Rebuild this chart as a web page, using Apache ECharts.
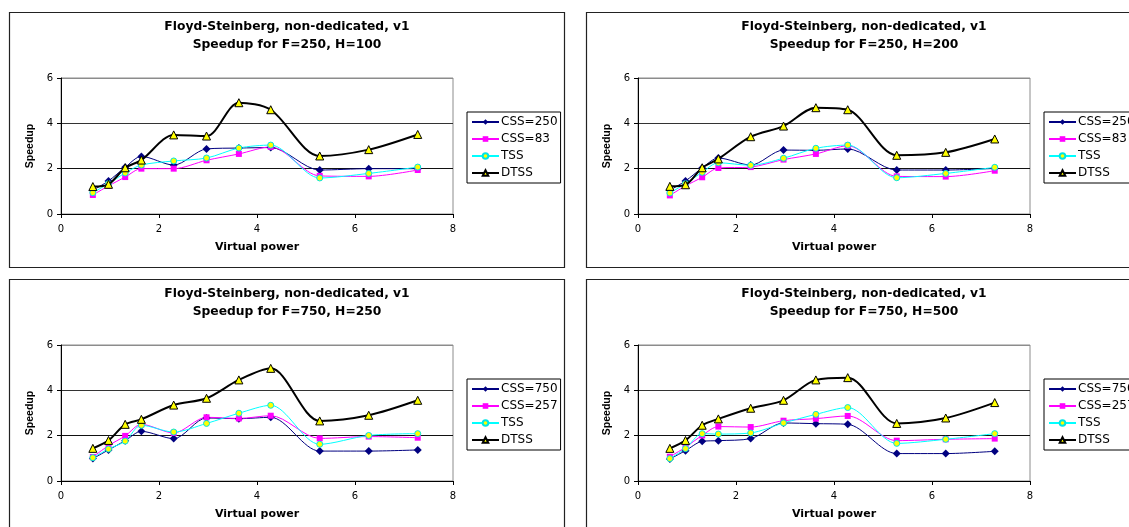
<!DOCTYPE html>
<html>
<head>
<meta charset="utf-8">
<script src="https://cdn.jsdelivr.net/npm/echarts@6/dist/echarts.min.js"></script>
<style>
html,body{margin:0;padding:0;background:#fff;}
#c{width:1129px;height:527px;}
</style>
</head>
<body>
<div id="c"></div>
<script>
// Virtual power (x values shared by all panels)
const virtualPower = [0.65, 0.97, 1.31, 1.64, 2.30, 2.97, 3.63, 4.28, 5.28, 6.28, 7.28];

const titleLine1 = 'Floyd-Steinberg, non-dedicated, v1';
const subtitles = ['Speedup for F=250, H=100', 'Speedup for F=250, H=200', 'Speedup for F=750, H=250', 'Speedup for F=750, H=500'];
const cssNames = [['CSS=250', 'CSS=83'], ['CSS=250', 'CSS=83'], ['CSS=750', 'CSS=257'], ['CSS=750', 'CSS=257']];

// Panel 1: F=250, H=100
const p1_cssA = [1.05, 1.46, 2.06, 2.54, 2.16, 2.87, 2.91, 2.93, 1.94, 2.00, 2.00];
const p1_cssB = [0.84, 1.24, 1.63, 2.00, 2.00, 2.37, 2.65, 2.96, 1.68, 1.66, 1.94];
const p1_tss  = [0.94, 1.34, 1.81, 2.16, 2.34, 2.47, 2.91, 3.04, 1.59, 1.79, 2.07];
const p1_dtss = [1.21, 1.31, 2.04, 2.38, 3.49, 3.44, 4.91, 4.60, 2.56, 2.84, 3.51];

// Panel 2: F=250, H=200
const p2_cssA = [1.05, 1.46, 2.03, 2.47, 2.16, 2.82, 2.81, 2.87, 1.94, 1.94, 2.01];
const p2_cssB = [0.82, 1.24, 1.62, 2.03, 2.07, 2.40, 2.65, 3.01, 1.66, 1.65, 1.91];
const p2_tss  = [0.93, 1.34, 1.84, 2.26, 2.15, 2.46, 2.90, 3.04, 1.60, 1.79, 2.06];
const p2_dtss = [1.22, 1.29, 2.04, 2.43, 3.41, 3.88, 4.69, 4.60, 2.59, 2.72, 3.31];

// Panel 3: F=750, H=250
const p3_cssA = [0.99, 1.37, 1.78, 2.19, 1.87, 2.78, 2.75, 2.81, 1.32, 1.32, 1.37];
const p3_cssB = [1.06, 1.56, 1.99, 2.50, 2.12, 2.81, 2.76, 2.88, 1.88, 1.96, 1.91];
const p3_tss  = [1.03, 1.41, 1.76, 2.46, 2.16, 2.54, 2.99, 3.34, 1.62, 2.01, 2.09];
const p3_dtss = [1.44, 1.79, 2.50, 2.72, 3.35, 3.65, 4.46, 4.97, 2.65, 2.90, 3.56];

// Panel 4: F=750, H=500
const p4_cssA = [0.97, 1.34, 1.75, 1.78, 1.87, 2.56, 2.53, 2.50, 1.21, 1.21, 1.31];
const p4_cssB = [1.07, 1.49, 2.01, 2.40, 2.38, 2.66, 2.75, 2.87, 1.78, 1.84, 1.87];
const p4_tss  = [0.99, 1.43, 2.09, 2.07, 2.12, 2.56, 2.94, 3.24, 1.66, 1.84, 2.09];
const p4_dtss = [1.44, 1.79, 2.46, 2.74, 3.21, 3.56, 4.46, 4.56, 2.54, 2.78, 3.46];

const panelData = [
  [p1_cssA, p1_cssB, p1_tss, p1_dtss],
  [p2_cssA, p2_cssB, p2_tss, p2_dtss],
  [p3_cssA, p3_cssB, p3_tss, p3_dtss],
  [p4_cssA, p4_cssB, p4_tss, p4_dtss]
];

const xTicks = {min: 0, max: 8, interval: 2};
const yTicks = {min: 0, max: 6, interval: 2};

// layout
const panelBoxes = [[9, 12], [586, 12], [9, 279], [586, 279]];
const panelW = 555, panelH = 255;
const WIDE = '"DejaVu Sans", Verdana, sans-serif';
const NARROW = '"Liberation Sans", Arial, sans-serif';
const SMOOTH = 0.3;

const grids = [], xAxes = [], yAxes = [], titles = [], legends = [], series = [], graphics = [];

const pair = (xs, ys) => xs.map((x, i) => [x, ys[i]]);

panelBoxes.forEach(([px, py], k) => {
  graphics.push({
    type: 'rect', shape: {x: px + 0.5, y: py + 0.5, width: panelW, height: panelH},
    style: {fill: 'none', stroke: '#222', lineWidth: 1.2}, z: 0
  });
  grids.push({left: px + 52, top: py + 66, width: 392, height: 136,
    show: true, borderColor: '#8c8c8c', borderWidth: 1, backgroundColor: 'transparent'});
  xAxes.push({
    type: 'value', gridIndex: k, min: xTicks.min, max: xTicks.max, interval: xTicks.interval,
    name: 'Virtual power', nameLocation: 'middle', nameGap: 28,
    nameTextStyle: {fontFamily: WIDE, fontSize: 11, fontWeight: 'bold', color: '#000'},
    axisLine: {show: true, onZero: false, lineStyle: {color: '#000', width: 1}},
    axisTick: {show: true, inside: false, length: 4, lineStyle: {color: '#000'}},
    axisLabel: {fontFamily: WIDE, fontSize: 10, color: '#000', margin: 10},
    splitLine: {show: false}
  });
  yAxes.push({
    type: 'value', gridIndex: k, min: yTicks.min, max: yTicks.max, interval: yTicks.interval,
    name: 'Speedup', nameLocation: 'middle', nameGap: 25,
    nameTextStyle: {fontFamily: NARROW, fontSize: 10.5, fontWeight: 'bold', color: '#000'},
    axisLine: {show: true, lineStyle: {color: '#000', width: 1}},
    axisTick: {show: true, inside: false, length: 4, lineStyle: {color: '#000'}},
    axisLabel: {fontFamily: WIDE, fontSize: 10, color: '#000', margin: 8},
    splitLine: {show: true, lineStyle: {color: ['#000', '#111', '#333', '#8c8c8c'], width: 1}}
  });
  titles.push({
    text: titleLine1 + '\n' + subtitles[k],
    left: px + 273, top: py + 1, textAlign: 'center',
    textStyle: {fontFamily: WIDE, fontSize: 12.3, fontWeight: 'bold', color: '#000', lineHeight: 18}
  });
  const names = [cssNames[k][0], cssNames[k][1], 'TSS', 'DTSS'];
  legends.push({
    data: names, orient: 'vertical', left: px + 458, top: py + 100,
    backgroundColor: '#fff', borderColor: '#000', borderWidth: 1,
    padding: [4, 3, 4, 4], itemGap: 5, itemWidth: 27, itemHeight: 7,
    textStyle: {fontFamily: WIDE, fontSize: 12, color: '#000', padding: [0, 0, 0, -3]},
    selectedMode: false
  });
  const d = panelData[k];
  series.push({
    name: names[0], type: 'line', xAxisIndex: k, yAxisIndex: k, data: pair(virtualPower, d[0]),
    smooth: SMOOTH, symbol: 'diamond', symbolSize: 8, color: '#000080',
    lineStyle: {color: '#000080', width: 1}, itemStyle: {color: '#000080'}, z: 3
  });
  series.push({
    name: names[1], type: 'line', xAxisIndex: k, yAxisIndex: k, data: pair(virtualPower, d[1]),
    smooth: SMOOTH, symbol: 'rect', symbolSize: 6, color: '#ff00ff',
    lineStyle: {color: '#ff00ff', width: 1}, itemStyle: {color: '#ff00ff'}, z: 3
  });
  series.push({
    name: 'TSS', type: 'line', xAxisIndex: k, yAxisIndex: k, data: pair(virtualPower, d[2]),
    smooth: SMOOTH, symbol: 'circle', symbolSize: 6, color: '#00ffff',
    lineStyle: {color: '#00ffff', width: 1}, itemStyle: {color: '#ffff00', borderColor: '#00e5e5', borderWidth: 1}, z: 3
  });
  series.push({
    name: 'DTSS', type: 'line', xAxisIndex: k, yAxisIndex: k, data: pair(virtualPower, d[3]),
    smooth: SMOOTH, symbol: 'triangle', symbolSize: 8, color: '#000',
    lineStyle: {color: '#000', width: 2}, itemStyle: {color: '#ffff00', borderColor: '#000', borderWidth: 1}, z: 4
  });
});

const chart = echarts.init(document.getElementById('c'), null, {renderer: 'canvas'});
chart.setOption({
  animation: false,
  backgroundColor: '#fff',
  title: titles, legend: legends, grid: grids, xAxis: xAxes, yAxis: yAxes, series: series,
  graphic: graphics
});
</script>
</body>
</html>
